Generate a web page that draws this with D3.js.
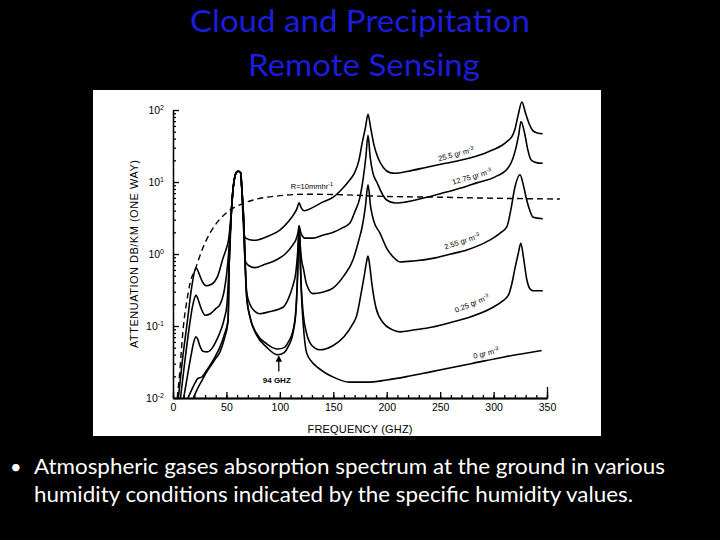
<!DOCTYPE html>
<html><head><meta charset="utf-8">
<script src="https://cdn.jsdelivr.net/npm/d3@7/dist/d3.min.js"></script>
<style>body{margin:0;background:#000}svg{display:block}</style>
</head><body><svg id="c" width="720" height="540"></svg>
<script>
// ---- data (frequency GHz, attenuation dB/km) ----
const freqTicks = [0, 50, 100, 150, 200, 250, 300, 350];
const decadeTicks = [0.01, 0.1, 1, 10, 100];
const decadeExp = ["-2", "-1", "0", "1", "2"];
const titleLines = ["Cloud and Precipitation", "Remote Sensing"];
const bulletLines = ["Atmospheric gases absorption spectrum at the ground in various",
                     "humidity conditions indicated by the specific humidity values."];

const hum25_5 = [[5,0.01],[9,0.0355],[12.8,0.0977],[17.5,0.347],[20.6,0.6],[22,0.631],[24,0.55],[27,0.427],[31,0.363],[36,0.38],[42,0.501],[47,0.891],[50,1.2],[52,1.58],[53.5,2.5],[54.9,4.47],[56.4,8.51],[59.6,13.8],[61.1,14.1],[63.4,13.3],[64.3,8.51],[65.6,3.0],[66.4,1.9],[68,1.66],[75,1.55],[80,1.58],[91,1.82],[100,2.14],[108,2.82],[113,3.55],[116,4.27],[118,5.13],[120,4.37],[123,3.98],[130,4.37],[140,5.25],[150,6.17],[158,7.94],[165,10.5],[170,13.5],[174,20],[177,34.7],[180,56.2],[182.5,87.1],[185,56.2],[188,33.1],[192,21.4],[197,15.8],[203,13.5],[208,13.2],[220,14.1],[238.6,16.2],[255,18.2],[270,20.2],[292,25.1],[300,28.2],[308,32.4],[313,37],[317,42.2],[320,54],[323,85],[326.5,129],[330,89.1],[333,66.1],[337,51.3],[341,47.9],[346,46.8]];

const hum12_75 = [[7,0.01],[11,0.0316],[15.3,0.0977],[18,0.178],[20,0.24],[21.5,0.269],[23,0.245],[25,0.2],[27,0.166],[30,0.141],[35,0.148],[40,0.174],[44,0.2],[48,0.316],[50,0.5],[52,1.0],[53.5,2.0],[54.9,4.47],[56.4,8.51],[59.6,13.8],[61.1,14.1],[63.4,13.3],[64.3,8.51],[66.4,2.37],[67.2,0.9],[68.5,0.75],[72,0.676],[76.7,0.646],[85,0.708],[97,0.832],[105,1.0],[112,1.33],[115,1.58],[117,2.0],[118,2.45],[119.5,2.0],[121,1.78],[123.5,1.66],[131,1.66],[140,1.82],[150,2.0],[158,2.29],[165.6,2.69],[170,3.8],[175,6.17],[178,11.2],[180.5,22.4],[182.5,44.7],[184.5,22.4],[187,13.5],[191,9.77],[196,6.76],[200,5.62],[207.8,5.1],[215,5.2],[238.6,6.2],[255,7.2],[270.4,8.3],[285,9.8],[301,11.7],[313.5,15.6],[318,21],[321,30],[323.5,45],[325.7,69.2],[329,47.9],[332,28.2],[335,20.4],[340,18.6],[346,18.2]];

const hum2_55 = [[10,0.01],[14,0.0224],[17,0.0398],[19.5,0.0603],[21.5,0.0708],[23,0.0661],[25,0.0537],[28,0.0447],[32,0.0437],[37,0.0501],[41,0.0646],[45,0.0891],[48,0.126],[50.5,0.2],[52,0.5],[53.5,1.5],[54.9,4.47],[56.4,8.51],[59.6,13.8],[61.1,14.1],[63.4,13.3],[64.3,8.51],[66.4,2.37],[67.4,0.832],[69,0.288],[72,0.2],[77,0.158],[81,0.148],[90,0.158],[103,0.182],[108,0.24],[112,0.355],[115,0.562],[117,1.26],[118,2.45],[119.2,1.26],[120.5,0.794],[122,0.631],[125,0.38],[131,0.282],[140,0.295],[150,0.339],[160,0.501],[168.5,0.832],[174,1.58],[177,2.37],[180,4.47],[182.5,9.12],[185,4.47],[188,2.82],[193.7,1.95],[200,1.2],[206,0.912],[212.4,0.776],[225,0.8],[243,0.87],[260,1.0],[275,1.14],[288,1.35],[299.5,1.66],[307,2.0],[312.5,2.4],[316,4.0],[320,8.51],[324.7,12.6],[328,8.91],[331,5.62],[334,3.98],[337,3.24],[346,3.09]];

const hum0_25 = [[14,0.01],[18,0.0135],[21,0.0166],[23,0.0186],[25,0.0191],[27,0.0195],[30,0.0224],[35,0.029],[40,0.0389],[44,0.0513],[48,0.0759],[51.5,0.12],[52.7,0.832],[54.9,4.47],[56.4,8.51],[59.6,13.8],[61.1,14.1],[63.4,13.3],[64.3,8.51],[66.4,2.37],[67.4,0.832],[69,0.25],[72,0.135],[78,0.0794],[88,0.0562],[98,0.0479],[104,0.0501],[108,0.0603],[112,0.0832],[115,0.166],[116.5,0.5],[117.5,1.5],[118,2.45],[118.7,1.26],[120,0.355],[122,0.141],[125,0.0794],[130,0.0537],[137.5,0.0468],[150,0.0537],[160,0.0708],[168,0.105],[172,0.141],[176,0.282],[179,0.501],[181,0.759],[182.5,0.933],[184,0.708],[186,0.398],[190,0.178],[196.5,0.112],[205,0.0891],[212.4,0.083],[225,0.088],[243,0.097],[260,0.112],[275,0.129],[299.5,0.182],[308,0.22],[314,0.27],[317,0.38],[320,0.63],[323,1.0],[325.5,1.41],[328,0.89],[331,0.45],[334,0.33],[337,0.309],[346,0.309]];

const hum0 = [[19,0.01],[23,0.0135],[27,0.0174],[31,0.0224],[36,0.029],[40,0.0355],[44,0.0437],[48,0.0661],[51.5,0.115],[52.7,0.832],[54.9,4.47],[56.4,8.51],[59.6,13.8],[61.1,14.1],[63.4,13.3],[64.3,8.51],[66.4,2.37],[67.4,0.832],[69,0.25],[72,0.133],[78,0.0759],[88,0.0501],[98,0.0398],[104,0.0427],[108,0.0525],[112,0.0759],[115,0.158],[116.5,0.45],[117.5,1.5],[118,2.45],[118.7,1.2],[120,0.316],[122,0.1],[125,0.0427],[130,0.0316],[135,0.0269],[150,0.0195],[165,0.0166],[181.5,0.0166],[200,0.0178],[220,0.02],[240,0.0229],[260,0.0263],[280,0.0302],[310,0.0372],[345,0.0457]];

const rain10 = [[4,0.01],[4.7,0.0129],[6,0.02],[8,0.05],[9.7,0.0977],[13,0.224],[16,0.398],[20.6,0.6],[27,1.12],[34.6,1.95],[43,2.95],[53.3,4.07],[65,5.01],[75,5.62],[100,6.46],[125,6.76],[150,6.7],[200,6.3],[250,6.15],[300,5.95],[362,5.8]];

// label anchors in data space: [freq, value, text, exponent, angle]
const curveLabels = [
  [264.8, 24.5, "25.5 gr m", "-3", -15],
  [279.8, 11.9, "12.75 gr m", "-3", -16],
  [270.4, 1.5, "2.55 gr m", "-3", -18],
  [279.8, 0.205, "0.25 gr m", "-3", -22],
  [292.9, 0.042, "0 gr m", "-3", -14],
  [130, 8.8, "R=10mmhr", "-1", 0]
];
const markerGHz = 99, markerLabel = "94 GHZ";

// ---- drawing ----
const svg = d3.select("#c");
svg.append("rect").attr("width", 720).attr("height", 540).attr("fill", "#000");
svg.append("rect").attr("x", 93).attr("y", 90).attr("width", 508).attr("height", 346).attr("fill", "#fff");

const x = d3.scaleLinear().domain([0, 350]).range([173, 547]);
const y = d3.scaleLog().domain([0.01, 100]).range([398, 110]);

const tickFont = "'Liberation Sans', Arial, sans-serif";

// x axis: minor, major, end tick
const gx = svg.append("g").attr("transform", `translate(0,${y(0.01)})`);
gx.append("g").call(d3.axisBottom(x).tickValues(d3.range(0, 351, 10)).tickSize(-3).tickSizeOuter(0).tickFormat(""));
gx.append("g").call(d3.axisBottom(x).tickValues(freqTicks).tickSize(-6).tickSizeOuter(0).tickPadding(6));
gx.append("g").call(d3.axisBottom(x).tickValues([350]).tickSize(-11).tickSizeOuter(0).tickFormat(""));
gx.selectAll("text").attr("font-family", tickFont).attr("font-size", 10.5).attr("fill", "#000");
gx.selectAll("line,path").attr("stroke", "#000").attr("stroke-width", 1.3);

// y axis
const minor = [];
decadeTicks.slice(0, -1).forEach(d => { for (let k = 2; k <= 9; k++) minor.push(d * k); });
const gy = svg.append("g").attr("transform", `translate(${x(0)},0)`);
gy.append("g").call(d3.axisLeft(y).tickValues(minor).tickSize(-3).tickSizeOuter(0).tickFormat(""));
const gyMaj = gy.append("g").call(d3.axisLeft(y).tickValues(decadeTicks).tickSize(-6).tickSizeOuter(0).tickPadding(9).tickFormat(() => "10"));
gy.selectAll("line,path").attr("stroke", "#000").attr("stroke-width", 1.3);
gyMaj.selectAll(".tick text").attr("font-family", tickFont).attr("font-size", 10.5).attr("fill", "#000")
  .each(function(d, i) {
    d3.select(this).append("tspan").attr("dy", "-0.55em").attr("font-size", 7).text(decadeExp[i]);
  });

// axis titles
svg.append("text").attr("x", x(175)).attr("y", 433).attr("text-anchor", "middle")
  .attr("font-family", tickFont).attr("font-size", 11).attr("textLength", 105).attr("fill", "#000")
  .text("FREQUENCY (GHZ)");
svg.append("text").attr("transform", `translate(138,${y(1)}) rotate(-90)`).attr("text-anchor", "middle")
  .attr("font-family", tickFont).attr("font-size", 11).attr("textLength", 188).attr("fill", "#000")
  .text("ATTENUATION DB/KM (ONE WAY)");

// curves
const line = d3.line().x(d => x(d[0])).y(d => y(d[1])).curve(d3.curveMonotoneX);
[hum25_5, hum12_75, hum2_55, hum0_25, hum0].forEach(s => {
  svg.append("path").attr("d", line(s)).attr("fill", "none").attr("stroke", "#000").attr("stroke-width", 1.6);
});
svg.append("path").attr("d", line(rain10)).attr("fill", "none").attr("stroke", "#000")
  .attr("stroke-width", 1.4).attr("stroke-dasharray", "6,4");

// curve labels
curveLabels.forEach(([f, v, t, e, a]) => {
  const tx = svg.append("text").attr("transform", `translate(${x(f)},${y(v)}) rotate(${a})`)
    .attr("text-anchor", "middle").attr("dy", "0.35em")
    .attr("font-family", tickFont).attr("font-size", 7.5).attr("fill", "#000").text(t);
  tx.append("tspan").attr("dy", "-0.5em").attr("font-size", 5.5).text(e);
});

// 94 GHz marker
svg.append("defs").append("marker").attr("id", "ah").attr("viewBox", "0 0 10 10")
  .attr("refX", 5).attr("refY", 5).attr("markerWidth", 5).attr("markerHeight", 6).attr("orient", "auto")
  .append("path").attr("d", "M0,0 L10,5 L0,10 z").attr("fill", "#000");
svg.append("line").attr("x1", x(markerGHz)).attr("x2", x(markerGHz)).attr("y1", y(0.0233)).attr("y2", y(0.0355))
  .attr("stroke", "#000").attr("stroke-width", 1.3).attr("marker-end", "url(#ah)");
svg.append("text").attr("x", x(markerGHz) - 2).attr("y", y(0.0163)).attr("text-anchor", "middle")
  .attr("font-family", tickFont).attr("font-size", 8).attr("font-weight", "bold").attr("fill", "#000").text(markerLabel);

// slide title
const titleFont = "Lato, 'Open Sans', sans-serif";
svg.append("text").attr("x", 360).attr("y", 32).attr("text-anchor", "middle").attr("font-family", titleFont)
  .attr("font-size", 31).attr("fill", "#1c1cdc").attr("textLength", 340).attr("lengthAdjust", "spacingAndGlyphs").text(titleLines[0]);
svg.append("text").attr("x", 364).attr("y", 76).attr("text-anchor", "middle").attr("font-family", titleFont)
  .attr("font-size", 31).attr("fill", "#1c1cdc").attr("textLength", 232).attr("lengthAdjust", "spacingAndGlyphs").text(titleLines[1]);

// bullet text
svg.append("text").attr("x", 10).attr("y", 474).attr("font-family", titleFont).attr("font-size", 20).attr("fill", "#fff").text("\u2022");
svg.append("text").attr("x", 34).attr("y", 474).attr("font-family", titleFont).attr("font-size", 21).attr("fill", "#fff")
  .attr("textLength", 631).attr("lengthAdjust", "spacingAndGlyphs").text(bulletLines[0]);
svg.append("text").attr("x", 34).attr("y", 502).attr("font-family", titleFont).attr("font-size", 21).attr("fill", "#fff")
  .attr("textLength", 599).attr("lengthAdjust", "spacingAndGlyphs").text(bulletLines[1]);
</script>
</body></html>
